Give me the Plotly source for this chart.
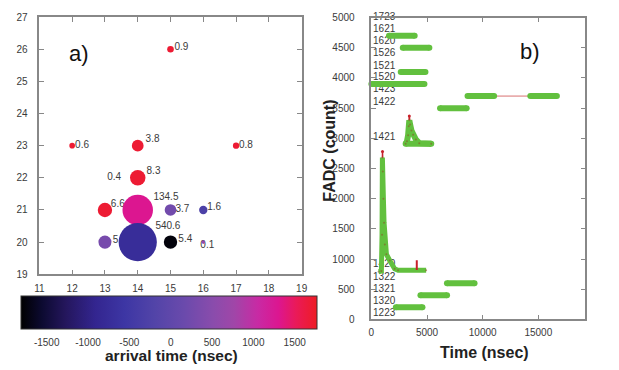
import math
import plotly.graph_objects as go

# ---------------- panel a) data ----------------
bub_x = [15, 12, 14, 17, 14, 14, 13, 14, 15, 16, 13, 14, 15, 16]
bub_y = [26, 23, 23, 23, 22, 22, 21, 21, 21, 21, 20, 20, 20, 20]
bub_val = [0.9, 0.6, 3.8, 0.8, 0.4, 8.3, 6.6, 134.5, 3.7, 1.6, 5, 540.6, 5.4, 0.1]
bub_time = [1700, 1700, 1700, 1700, 1700, 1700, 1700, 1300, 250, -300, 300, -750, -1750, 650]
bub_label = ["0.9", "0.6", "3.8", "0.8", "0.4", "8.3", "6.6", "134.5", "3.7", "1.6", "5", "540.6", "5.4", "0.1"]
cbar_ticks = [-1500, -1000, -500, 0, 500, 1000, 1500]
cbar_ticktext = ["-1500", "-1000", "-500", "0", "500", "1000", "1500"]

# ---------------- panel b) data ----------------
band_t0 = [1580, 2820, 2640, 0, 8640, 14280, 6170, 3080, 6790, 4410, 2200]
band_t1 = [3890, 5210, 4860, 4770, 11030, 16670, 8560, 5380, 9270, 6800, 4590]
band_adc = [4700, 4500, 4100, 3900, 3700, 3700, 3500, 2910, 600, 400, 200]

spike1_t = [650, 900, 960, 990, 1030, 1080, 1140, 1210, 1350, 1650, 2090, 2400, 4920]
spike1_adc = [790, 800, 1400, 2680, 2450, 2000, 1600, 1240, 1080, 975, 840, 815, 815]
spike1_red_t = [900, 960, 1000, 1030, 1080, 1140, 1210]
spike1_red_adc = [800, 1400, 2780, 2450, 2000, 1600, 1240]

spike2_t = [3080, 3200, 3300, 3360, 3410, 3480, 3600, 3750, 4000, 4300, 5380]
spike2_adc = [2910, 2950, 3050, 3200, 3300, 3230, 3130, 3060, 2980, 2920, 2910]
spike2_red_t = [3300, 3360, 3410, 3480]
spike2_red_adc = [3050, 3200, 3370, 3230]

link_t = [11030, 14280]
link_adc = [3700, 3700]
noise_t = [4080]
noise_adc = [900]

ch_labels = ["1723", "1621", "1620", "1526", "1521", "1520", "1423", "1422", "1421",
             "1420", "1322", "1321", "1320", "1223"]
ch_adc = [5000, 4807, 4598, 4405, 4196, 4003, 3810, 3601, 3006, 916, 700, 490, 289, 96]

time_ticks = [0, 5000, 10000, 15000]
time_ticktext = ["0", "5000", "10000", "15000"]
adc_ticks = list(range(0, 5001, 500))
adc_ticktext = [str(v) for v in adc_ticks]

# ---------------- styling ----------------
FONT = "Liberation Sans, Arial, sans-serif"
GRAY = "#888888"
TXT = "#3a3a3a"
GREEN = "#62c03e"
RED = "#c8202a"

colorscale = [
    [0.00, "#000000"], [0.07, "#0c0a30"], [0.15, "#24165c"], [0.25, "#33258f"],
    [0.35, "#3d36a4"], [0.45, "#5244a8"], [0.55, "#6a4aac"], [0.65, "#8a4cac"],
    [0.72, "#a046a8"], [0.80, "#c82aa4"], [0.87, "#dc1690"], [0.93, "#ea1a58"],
    [1.00, "#ee1c24"],
]
CMIN, CMAX = -1810, 1770

sizes = [2 * (1.5 + 2.8 * math.log(1 + v)) for v in bub_val]

# label offsets in pixels (right, up) relative to bubble centre
lab_off = [(4, 2), (3, 0), (8, 6), (3, 0), (-17, 0), (9, 7), (6, 6), (16, 13),
           (5, 1), (4, 3), (8, 2), (18, 16), (8, 2.5), (-3, -4)]
lab_pos = ["middle right"] * len(bub_x)
lab_pos[4] = "middle left"
PXU = 33.4  # pixels per data unit in panel a)
lab_x = [x + o[0] / PXU for x, o in zip(bub_x, lab_off)]
lab_y = [y + o[1] / PXU for y, o in zip(bub_y, lab_off)]

fig = go.Figure()

# labels under bubbles
fig.add_trace(go.Scatter(
    x=lab_x, y=lab_y, mode="text", text=bub_label, textposition=lab_pos,
    textfont=dict(family=FONT, size=10, color=TXT), xaxis="x", yaxis="y",
    showlegend=False, hoverinfo="skip", cliponaxis=False))

fig.add_trace(go.Scatter(
    x=bub_x, y=bub_y, mode="markers", xaxis="x", yaxis="y", showlegend=False,
    marker=dict(size=sizes, color=bub_time, colorscale=colorscale, cmin=CMIN, cmax=CMAX,
                line=dict(width=0), opacity=1,
                showscale=True,
                colorbar=dict(orientation="h", x=167 / 619, xanchor="center",
                              y=1 - 300 / 370, yanchor="top", yref="paper",
                              lenmode="pixels", len=296, thickness=33,
                              xpad=0, ypad=0, outlinewidth=1, outlinecolor="#333333",
                              tickvals=cbar_ticks, ticktext=cbar_ticktext,
                              ticks="outside", ticklen=5, tickcolor="rgba(0,0,0,0)",
                              tickfont=dict(family=FONT, size=10, color=TXT))),
    cliponaxis=False))

# panel b) channel labels (under the waveform)
fig.add_trace(go.Scatter(
    x=[150] * len(ch_labels), y=ch_adc, mode="text", text=ch_labels,
    textposition="middle right", textfont=dict(family=FONT, size=10, color=TXT),
    xaxis="x2", yaxis="y2", showlegend=False, hoverinfo="skip", cliponaxis=False))

fig.add_trace(go.Scatter(x=link_t, y=link_adc, mode="lines", line=dict(color="#d87070", width=1),
                         xaxis="x2", yaxis="y2", showlegend=False))
for t0, t1, a in zip(band_t0, band_t1, band_adc):
    fig.add_trace(go.Scatter(x=[t0, t1], y=[a, a], mode="lines+markers",
                             line=dict(color=GREEN, width=6),
                             marker=dict(color=GREEN, size=6),
                             xaxis="x2", yaxis="y2", showlegend=False, cliponaxis=False))
for rt, ra in [(spike1_red_t, spike1_red_adc), (spike2_red_t, spike2_red_adc)]:
    fig.add_trace(go.Scatter(x=rt, y=ra, mode="lines+markers", line=dict(color=RED, width=1.5),
                             marker=dict(color=RED, size=3),
                             xaxis="x2", yaxis="y2", showlegend=False))
fig.add_trace(go.Scatter(x=spike1_t, y=spike1_adc, mode="lines",
                         line=dict(color=GREEN, width=5),
                         xaxis="x2", yaxis="y2", showlegend=False))
fig.add_trace(go.Scatter(x=spike2_t, y=spike2_adc, mode="lines",
                         line=dict(color=GREEN, width=6),
                         xaxis="x2", yaxis="y2", showlegend=False))
for st, sa in [(spike1_t, spike1_adc), (spike2_t, spike2_adc)]:
    fig.add_trace(go.Scatter(x=st, y=sa, mode="markers",
                             marker=dict(color="#8a5a2a", size=2, opacity=0.6),
                             xaxis="x2", yaxis="y2", showlegend=False))
fig.add_trace(go.Scatter(x=noise_t, y=noise_adc, mode="markers",
                         marker=dict(symbol="line-ns-open", color=RED, size=7,
                                     line=dict(color=RED, width=2)),
                         xaxis="x2", yaxis="y2", showlegend=False))

axis_common = dict(showgrid=False, zeroline=False, showline=True, linecolor=GRAY, linewidth=1.5,
                   mirror="ticks", ticks="inside", ticklen=5, tickcolor=GRAY, tickwidth=1,
                   tickfont=dict(family=FONT, size=10, color=TXT))


def ann(text, x, y, size, **kw):
    return dict(text=text, x=x, y=y, xref=kw.pop("xref", "paper"), yref="paper", showarrow=False,
                xanchor="center", yanchor="middle",
                font=dict(family=FONT, size=size, color=kw.pop("color", "#222222")), **kw)


fig.update_layout(
    width=619, height=370, margin=dict(l=0, r=0, t=0, b=0),
    paper_bgcolor="white", plot_bgcolor="white",
    xaxis=dict(domain=[35 / 619, 302 / 619], range=[11, 19], tickvals=list(range(11, 20)),
               anchor="y", ticklabelstandoff=4, **axis_common),
    yaxis=dict(domain=[1 - 277.5 / 370, 1 - 12.5 / 370], range=[19, 27], tickvals=list(range(19, 28)),
               anchor="x", ticklabelstandoff=8, **axis_common),
    xaxis2=dict(domain=[373 / 619, 591 / 619], range=[0, 19240], tickvals=time_ticks,
                ticktext=time_ticktext, anchor="y2", ticklabelstandoff=3, **axis_common),
    yaxis2=dict(domain=[1 - 324 / 370, 1 - 13 / 370], range=[0, 5000], tickvals=adc_ticks,
                ticktext=adc_ticktext, anchor="x2", ticklabelstandoff=13, **axis_common),
    annotations=[
        ann("a)", 75 / 619, 1 - 50 / 370, 22, color="#111111"),
        ann("b)", 535 / 619, 1 - 48 / 370, 22, color="#111111"),
        ann("<b>arrival time (nsec)</b>", 170 / 619, 1 - 361 / 370, 15.5),
        ann("<b>Time (nsec)</b>", 488 / 619, 1 - 358 / 370, 16),
        ann("<b>FADC (count)</b>", 330 / 619, 1 - 150 / 370, 16, textangle=-90),
        ann("20000", 20000, 1 - 334 / 370, 10, xref="x2", color=TXT),
    ],
)

fig.write_html("out.html")
